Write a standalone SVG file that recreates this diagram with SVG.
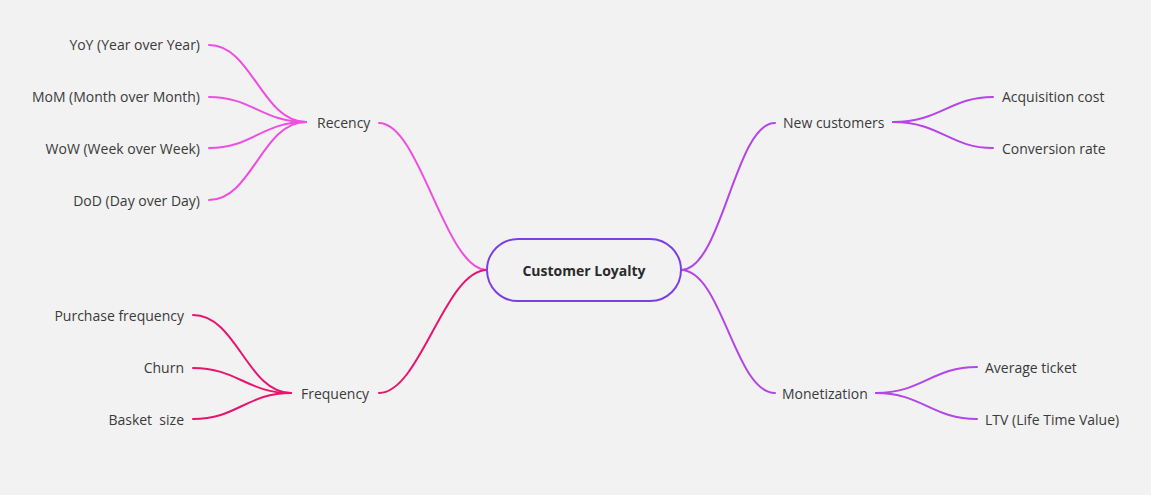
<svg xmlns="http://www.w3.org/2000/svg" width="1151" height="495" viewBox="0 0 1151 495">
<style>
text{font-family:"Open Sans","Noto Sans","Liberation Sans",sans-serif;font-size:14px;fill:#3a3a3a;dominant-baseline:central}
.r{text-anchor:end}
.c{fill:none;stroke-width:2;stroke-linecap:round}
.pink{stroke:#ef4fe0}
.red{stroke:#e8156e}
.pur{stroke:#b445e8}
</style>
<rect width="1151" height="495" fill="#f2f2f2"/>
<g id="connectors">
<path class="c pink" d="M379,123 C420,123 445,270 487,270"/>
<path class="c red" d="M379,393 C420,393 445,270 487,270"/>
<path class="c pur" d="M681,270 C722,270 735,123 775,123"/>
<path class="c pur" d="M681,270 C722,270 735,393 775,393"/>
<path class="c pink" d="M306,122 C262,122 252,45 209,45"/>
<path class="c pink" d="M306,122 C262,122 252,97 209,97"/>
<path class="c pink" d="M306,122 C262,122 252,148 209,148"/>
<path class="c pink" d="M306,122 C262,122 252,200 209,200"/>
<path class="c red" d="M291,393 C247,393 237,315 193,315"/>
<path class="c red" d="M291,393 C247,393 237,368 193,368"/>
<path class="c red" d="M291,393 C247,393 237,419 193,419"/>
<path class="c pur" d="M893,122 C940,122 950,97 993,97"/>
<path class="c pur" d="M893,122 C940,122 950,148 993,148"/>
<path class="c pur" d="M876,393 C922,393 932,367 977,367"/>
<path class="c pur" d="M876,393 C922,393 932,419 977,419"/>
</g>
<g id="center">
<rect x="487" y="239" width="194" height="62" rx="31" fill="#f2f2f2" stroke="#7c3fe6" stroke-width="2"/>
<text x="584" y="270" text-anchor="middle" style="font-weight:bold;font-size:14px;fill:#2a2a2a">Customer Loyalty</text>
</g>
<g id="recency"><text x="317" y="122.5">Recency</text></g>
<g id="frequency"><text x="301" y="393">Frequency</text></g>
<g id="new-customers"><text x="783" y="122.5">New customers</text></g>
<g id="monetization"><text x="782" y="393">Monetization</text></g>
<g id="yoy"><text class="r" x="200" y="44.5">YoY (Year over Year)</text></g>
<g id="mom"><text class="r" x="200" y="96.5">MoM (Month over Month)</text></g>
<g id="wow"><text class="r" x="200" y="148">WoW (Week over Week)</text></g>
<g id="dod"><text class="r" x="200" y="200">DoD (Day over Day)</text></g>
<g id="purchase-frequency"><text class="r" x="184" y="315">Purchase frequency</text></g>
<g id="churn"><text class="r" x="184" y="367.5">Churn</text></g>
<g id="basket-size"><text class="r" x="184" y="419" xml:space="preserve">Basket  size</text></g>
<g id="acquisition-cost"><text x="1002" y="96.5">Acquisition cost</text></g>
<g id="conversion-rate"><text x="1002" y="148">Conversion rate</text></g>
<g id="average-ticket"><text x="985" y="367">Average ticket</text></g>
<g id="ltv"><text x="985" y="419">LTV (Life Time Value)</text></g>
</svg>
